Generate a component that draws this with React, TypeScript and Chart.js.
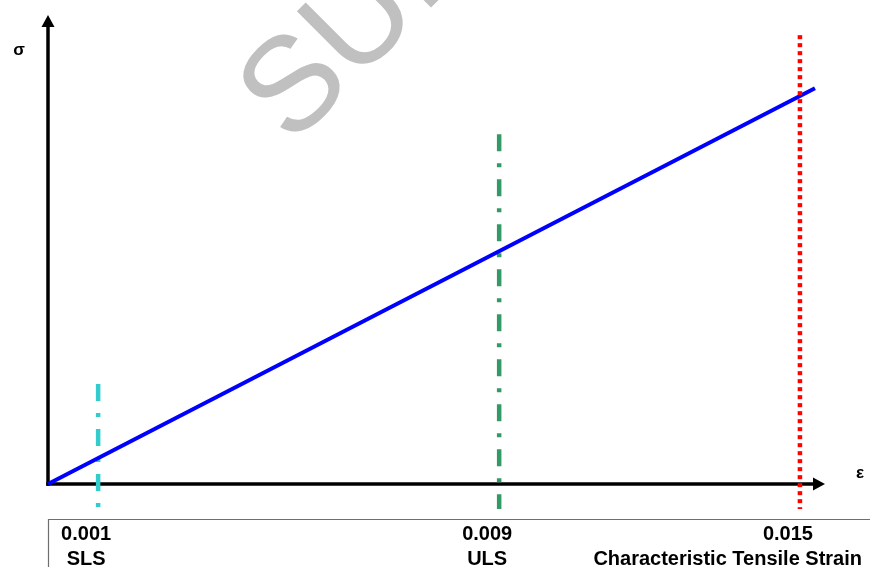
import React, { useEffect, useRef } from "react";
import { Chart, registerables } from "chart.js";

Chart.register(...registerables);

// ---- data ----
const strainLimits = [0.001, 0.009, 0.015];
const limitTickLabels = ["0.001", "0.009", "0.015"];
const limitNames = ["SLS", "ULS", "Characteristic Tensile Strain"];
const limitTopStress = [21.3, 74.6, 95.7];
const limitBottomStress = -5.33;
const curveStrain = [0, 0.0153];
const curveStress = [0, 84.4];
const strainAxisMax = 0.0155;
const stressAxisMax = 100;
const watermarkText = "SUPERSEDED";

const FONT = "'Liberation Sans', Arial, Helvetica, sans-serif";

const decorPlugin = {
  id: "decor",
  beforeDraw(chart: any) {
    const ctx = chart.ctx;
    ctx.save();
    ctx.fillStyle = "#ffffff";
    ctx.fillRect(0, 0, chart.width, chart.height);
    // watermark
    ctx.translate(291.5, 147);
    ctx.rotate(-Math.PI / 4);
    ctx.fillStyle = "#c0c0c0";
    ctx.font = `134px ${FONT}`;
    ctx.textBaseline = "alphabetic";
    ctx.textAlign = "left";
    ctx.fillText(watermarkText, 0, 0);
    ctx.restore();
  },
  beforeDatasetsDraw(chart: any) {
    const ctx = chart.ctx;
    const { left, right, top, bottom } = chart.chartArea;
    ctx.save();
    ctx.strokeStyle = "#000";
    ctx.fillStyle = "#000";
    ctx.lineWidth = 3.5;
    ctx.lineCap = "butt";
    // y axis
    ctx.beginPath();
    ctx.moveTo(left, bottom + 1.75);
    ctx.lineTo(left, top + 12);
    ctx.stroke();
    ctx.beginPath();
    ctx.moveTo(left, top);
    ctx.lineTo(left - 6.5, top + 12);
    ctx.lineTo(left + 6.5, top + 12);
    ctx.closePath();
    ctx.fill();
    // x axis
    ctx.beginPath();
    ctx.moveTo(left - 1.75, bottom);
    ctx.lineTo(right - 12, bottom);
    ctx.stroke();
    ctx.beginPath();
    ctx.moveTo(right, bottom);
    ctx.lineTo(right - 12, bottom - 6.5);
    ctx.lineTo(right - 12, bottom + 6.5);
    ctx.closePath();
    ctx.fill();
    ctx.restore();
  },
  afterDraw(chart: any) {
    const ctx = chart.ctx;
    const { left, top, bottom } = chart.chartArea;
    const xs = chart.scales.x;
    ctx.save();
    // axis symbols
    ctx.fillStyle = "#000";
    ctx.font = `bold 17px ${FONT}`;
    ctx.textAlign = "center";
    ctx.textBaseline = "alphabetic";
    ctx.fillText("σ", left - 29, top + 40);
    ctx.fillText("ε", chart.width - 10, bottom - 6);
    // bottom table
    const boxTop = bottom + 35.5;
    ctx.strokeStyle = "#6e6e6e";
    ctx.lineWidth = 1.2;
    ctx.beginPath();
    ctx.moveTo(left + 0.5, chart.height);
    ctx.lineTo(left + 0.5, boxTop);
    ctx.lineTo(chart.width, boxTop);
    ctx.stroke();
    ctx.font = `bold 20px ${FONT}`;
    const drawLabel = (text: string, cx: number, y: number) => {
      const w = ctx.measureText(text).width;
      let x = cx;
      const maxRight = chart.width - 8;
      if (x + w / 2 > maxRight) x = maxRight - w / 2;
      ctx.fillText(text, x, y);
    };
    strainLimits.forEach((v, i) => {
      const cx = xs.getPixelForValue(v) - 12;
      drawLabel(limitTickLabels[i], cx, bottom + 56);
      drawLabel(limitNames[i], cx, bottom + 81);
    });
    ctx.restore();
  },
};

function limitDataset(i: number, color: string, dash: number[]) {
  return {
    label: limitNames[i],
    data: [
      { x: strainLimits[i], y: limitTopStress[i] },
      { x: strainLimits[i], y: limitBottomStress },
    ],
    borderColor: color,
    borderWidth: 4.5,
    borderDash: dash,
    borderCapStyle: "butt",
    pointRadius: 0,
    clip: false,
    tension: 0,
  };
}

export default function App() {
  const canvasRef = useRef<HTMLCanvasElement | null>(null);

  useEffect(() => {
    if (!canvasRef.current) return;
    const curve = curveStrain.map((x, i) => ({ x, y: curveStress[i] }));
    const chart = new Chart(canvasRef.current, {
      type: "line",
      data: {
        datasets: [
          limitDataset(2, "#ff0000", [4, 4]),
          {
            label: "σ-ε",
            data: curve,
            borderColor: "#0000ff",
            borderWidth: 4,
            pointRadius: 0,
            clip: false,
            tension: 0,
          },
          limitDataset(1, "#339966", [17, 12, 4, 12]),
          limitDataset(0, "#33cccc", [17, 12, 4, 12]),
        ] as any,
      },
      options: {
        animation: false,
        responsive: false,
        devicePixelRatio: 1,
        layout: { padding: { left: 48, right: 45, top: 15, bottom: 83 } },
        plugins: {
          legend: { display: false },
          tooltip: { enabled: false },
          title: { display: false },
        },
        scales: {
          x: { type: "linear", min: 0, max: strainAxisMax, display: false },
          y: { type: "linear", min: 0, max: stressAxisMax, display: false },
        },
      } as any,
      plugins: [decorPlugin],
    });
    return () => chart.destroy();
  }, []);

  return (
    <div style={{ position: "fixed", left: 0, top: 0, width: 870, height: 567, background: "#fff" }}>
      <canvas ref={canvasRef} width={870} height={567} style={{ display: "block" }} />
    </div>
  );
}
